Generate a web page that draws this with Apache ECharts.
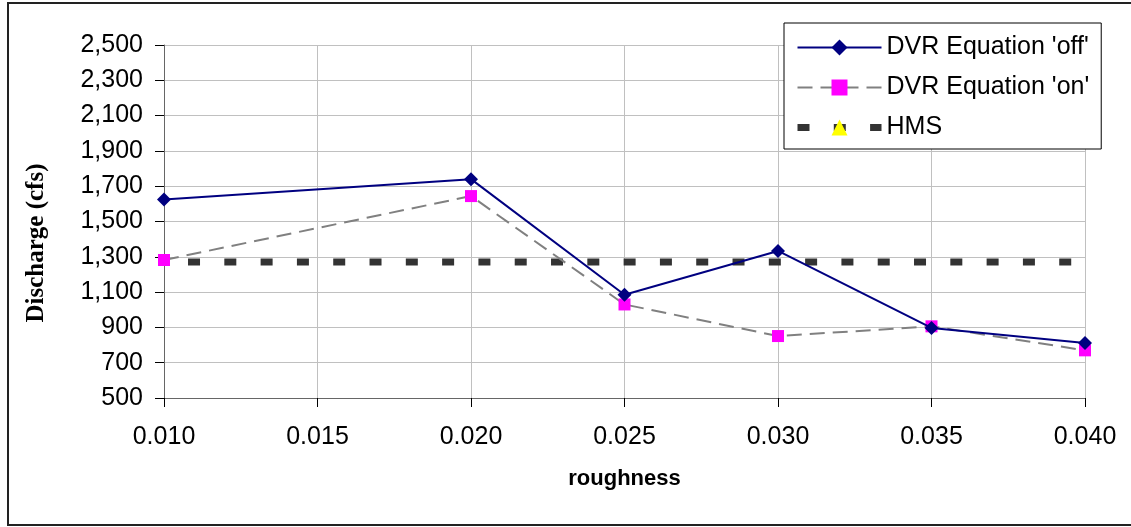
<!DOCTYPE html>
<html>
<head>
<meta charset="utf-8">
<script src="https://cdn.jsdelivr.net/npm/echarts@6/dist/echarts.min.js"></script>
<style>
  html, body { margin: 0; padding: 0; background: #fff; }
  #chart { width: 1131px; height: 527px; }
</style>
</head>
<body>
<div id="chart"></div>
<script>
// ---- data ----
const roughness = [0.010, 0.020, 0.025, 0.030, 0.035, 0.040];
const dvrOff = [1625, 1740, 1085, 1333, 897, 812];
const dvrOn = [1282, 1644, 1030, 851, 906, 770];
const hmsX = [0.0096, 0.040];
const hmsValue = [1270, 1270];
const seriesNames = ["DVR Equation 'off'", "DVR Equation 'on'", "HMS"];
const xTicks = { min: 0.010, max: 0.040, step: 0.005 };
const yTicks = { min: 500, max: 2500, step: 200 };

const pairs = (xs, ys) => xs.map((x, i) => [x, ys[i]]);

const chart = echarts.init(document.getElementById('chart'), null, { renderer: 'canvas' });
const sans = "'Liberation Sans', Arial, sans-serif";
const serif = "'Liberation Serif', 'Times New Roman', serif";

chart.setOption({
  animation: false,
  backgroundColor: '#ffffff',
  grid: { left: 164, right: 46, top: 45, bottom: 129, containLabel: false },
  legend: {
    orient: 'vertical',
    left: 784,
    top: 23,
    padding: [12, 12, 9, 10],
    itemWidth: 84,
    itemHeight: 20,
    itemGap: 15,
    backgroundColor: '#ffffff',
    borderColor: '#000000',
    borderWidth: 1,
    borderRadius: 0,
    lineStyle: { width: 'inherit' },
    textStyle: { fontFamily: sans, fontSize: 25, color: '#000000' },
    data: seriesNames
  },
  xAxis: {
    type: 'value',
    min: xTicks.min,
    max: xTicks.max,
    interval: xTicks.step,
    name: 'roughness',
    nameLocation: 'middle',
    nameGap: 70,
    nameTextStyle: { fontFamily: sans, fontSize: 22, fontWeight: 'bold', color: '#000' },
    axisLine: { show: true, lineStyle: { color: '#666666', width: 1 } },
    axisTick: { show: true, inside: false, length: 9, lineStyle: { color: '#000' } },
    axisLabel: {
      fontFamily: sans, fontSize: 25, color: '#000', margin: 27,
      formatter: v => v.toFixed(3)
    },
    splitLine: { show: true, lineStyle: { color: '#c0c0c0', width: 1 } }
  },
  yAxis: {
    type: 'value',
    min: yTicks.min,
    max: yTicks.max,
    interval: yTicks.step,
    axisLine: { show: true, lineStyle: { color: '#666666', width: 1 } },
    axisTick: { show: true, inside: false, length: 9, lineStyle: { color: '#000' } },
    axisLabel: {
      fontFamily: sans, fontSize: 25, color: '#000', margin: 21,
      formatter: v => v.toLocaleString('en-US')
    },
    splitLine: { show: true, lineStyle: { color: '#c0c0c0', width: 1 } }
  },
  graphic: [
    {
      type: 'rect',
      shape: { x: 8, y: 3, width: 1140, height: 522 },
      style: { fill: 'none', stroke: '#222222', lineWidth: 2 },
      silent: true, z: 100
    },
    {
      type: 'text',
      x: 37, y: 243,
      rotation: Math.PI / 2,
      style: {
        text: 'Discharge (cfs)',
        font: "bold 25px " + serif,
        fill: '#000',
        align: 'center',
        verticalAlign: 'middle'
      },
      silent: true
    }
  ],
  series: [
    {
      name: seriesNames[2],
      type: 'line',
      data: pairs(hmsX, hmsValue),
      clip: false,
      showSymbol: false,
      symbol: 'triangle',
      symbolSize: 14,
      itemStyle: { color: '#ffff00' },
      lineStyle: { color: '#333333', width: 7, type: [12, 24.3], cap: 'butt' },
      z: 1
    },
    {
      name: seriesNames[1],
      type: 'line',
      data: pairs(roughness, dvrOn),
      symbol: 'rect',
      symbolSize: 12,
      itemStyle: { color: '#ff00ff' },
      lineStyle: { color: '#808080', width: 2, type: [15, 8] },
      z: 2
    },
    {
      name: seriesNames[0],
      type: 'line',
      data: pairs(roughness, dvrOff),
      symbol: 'diamond',
      symbolSize: 14,
      itemStyle: { color: '#000080' },
      lineStyle: { color: '#000080', width: 2 },
      z: 3
    }
  ]
});
</script>
</body>
</html>
